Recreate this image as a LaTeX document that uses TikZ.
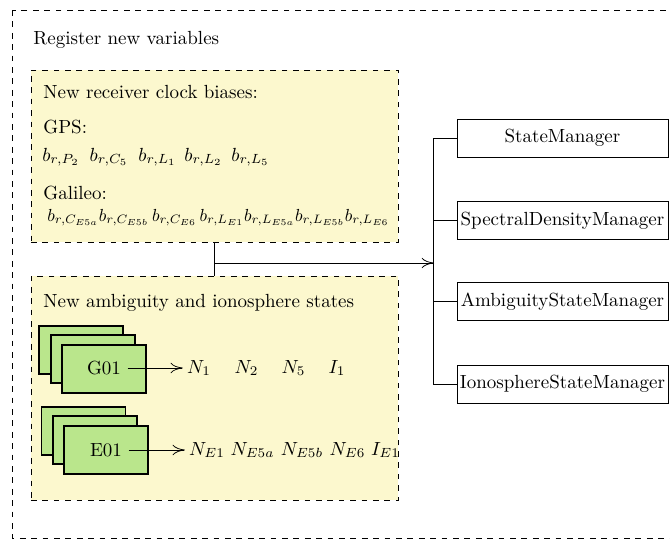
\documentclass[tikz,border=0pt]{standalone}
\usetikzlibrary{calc,arrows.meta}
\definecolor{ybg}{RGB}{252,248,206}
\definecolor{gbg}{RGB}{186,230,140}
\begin{document}
\begin{tikzpicture}[x=0.5263pt,y=-0.5263pt,
  arr/.style={-{To[length=6.5pt,width=5.5pt]}},
  ybox/.style={draw,dashed,fill=ybg,minimum width=193.2pt,inner sep=0pt},
  gbox/.style={draw,solid,line width=0.6pt,fill=gbg,minimum width=44.2pt,minimum height=25.3pt,inner sep=0pt},
  mgr/.style={draw,minimum width=111pt,minimum height=20pt,inner sep=1pt},
  lbl/.style={anchor=west,inner sep=0pt},
  var/.style={inner sep=0pt,anchor=base},
  gvar/.style={inner sep=0pt,anchor=base west}]
\useasboundingbox (0,0) rectangle (670,539);
\draw[dashed] (12,10) rectangle (700,538);
\node[lbl] (reg) at (33,40) {Register new variables};

\node[ybox,minimum height=90.5pt] (box1) at (214.5,156) {};
\node[ybox,minimum height=117.9pt] (box2) at (214.5,388) {};

\node[lbl] (clk) at (43,92) {New receiver clock biases:};
\node[lbl] (gps) at (43,127) {GPS:};
\node[var] (b1) at (61,161) {$b_{r,P_2}$};
\node[var] (b2) at (109,161) {$b_{r,C_5}$};
\node[var] (b3) at (157.5,161) {$b_{r,L_1}$};
\node[var] (b4) at (203.5,161) {$b_{r,L_2}$};
\node[var] (b5) at (250.5,161) {$b_{r,L_5}$};
\node[lbl] (gal) at (43,193) {Galileo:};
\node[gvar] (galrow) at (47,221) {\scalebox{0.92}{$b_{r,C_{E5a}}b_{r,C_{E5b}}\,b_{r,C_{E6}}\,b_{r,L_{E1}}b_{r,L_{E5a}}b_{r,L_{E5b}}b_{r,L_{E6}}$}};

\node[lbl] (amb) at (43,303) {New ambiguity and ionosphere states};

\node[gbox] (gA) at (81,350) {};
\node[gbox] (gB) at (93,359) {};
\node[gbox] (gC) at (104,369) {};
\node (g01) at (104,368) {G01};
\node[gbox] (eA) at (83.5,431) {};
\node[gbox] (eB) at (95,440) {};
\node[gbox] (eC) at (106,450) {};
\node (e01) at (106,450) {E01};

\node[var] (n1) at (199,373) {$N_1$};
\node[var] (n2) at (246.5,373) {$N_2$};
\node[var] (n5) at (293.5,373) {$N_5$};
\node[var] (i1) at (337,373) {$I_1$};
\node[var] (ne1) at (207,455) {$N_{E1}$};
\node[var] (ne5a) at (252.5,455) {$N_{E5a}$};
\node[var] (ne5b) at (302,455) {$N_{E5b}$};
\node[var] (ne6) at (347.5,455) {$N_{E6}$};
\node[var] (ie1) at (385.5,455) {$I_{E1}$};

\draw[arr] (g01.east) -- ([xshift=-2pt]g01.east -| n1.west);
\draw[arr] (e01.east) -- ([xshift=-2pt]e01.east -| ne1.west);

\node[mgr] (sm) at (562.5,138) {StateManager};
\node[mgr] (sdm) at (562.5,220.5) {SpectralDensityManager};
\node[mgr] (asm) at (562.5,301.5) {AmbiguityStateManager};
\node[mgr] (ism) at (562.5,384) {IonosphereStateManager};

\draw (sm.west) -- ++(-23,0) |- (ism.west);
\draw (sdm.west) -- ++(-23,0);
\draw (asm.west) -- ++(-23,0);

\draw (box1.south) -- (box2.north);
\coordinate (j) at (214.5,263);
\coordinate (busin) at (434,263);
\draw[arr] (j) -- (busin);
\end{tikzpicture}
\end{document}
